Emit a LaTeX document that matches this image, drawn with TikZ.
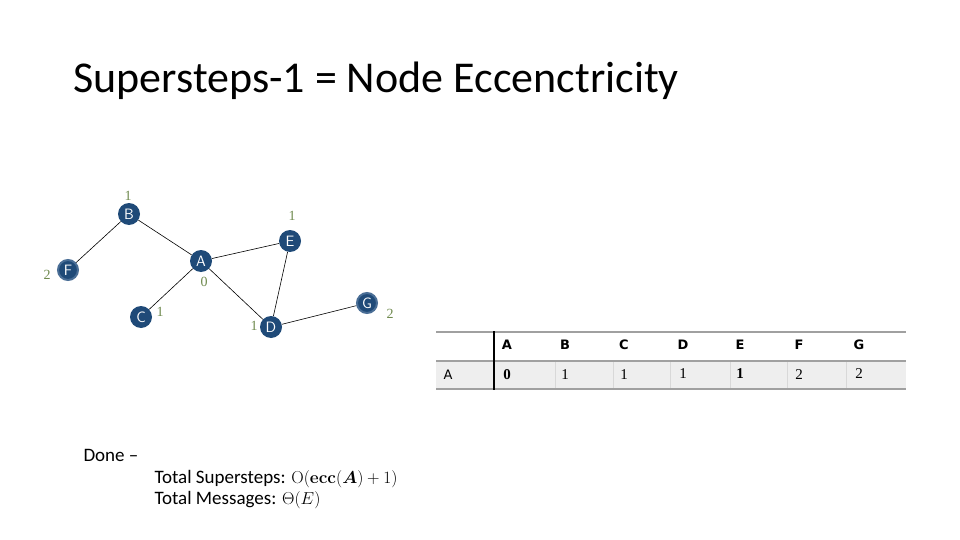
\documentclass[tikz,border=0pt]{standalone}
\usepackage{amsmath,bm}
\usepackage[no-math]{fontspec}
\setmainfont{Carlito}
\newfontfamily\tabsans{DejaVu Sans}
\newfontfamily\numserif{Liberation Serif}
\definecolor{nodeblue}{HTML}{1F4A78}
\definecolor{ringblue}{HTML}{4A6E96}
\definecolor{lblgreen}{HTML}{6F8A4E}
\definecolor{rowgray}{HTML}{EEEEEE}
\definecolor{rulegray}{HTML}{A0A0A0}
\definecolor{sepgray}{HTML}{D8D8D8}
\begin{document}
\begin{tikzpicture}[x=1pt,y=-1pt,
  vtx/.style={circle,fill=nodeblue,text=white,minimum size=22pt,inner sep=0pt,font=\fontsize{15}{15}\selectfont\sffamily},
  ringvtx/.style={vtx,draw=ringblue,line width=2pt,minimum size=20pt},
  lbl/.style={text=lblgreen,font=\fontsize{14}{14}\selectfont\numserif},
  edge/.style={draw=black,line width=0.6pt},
  hdr/.style={font=\fontsize{13}{13}\selectfont\tabsans\bfseries},
  cellnum/.style={font=\fontsize{15}{15}\selectfont\numserif},
]
\useasboundingbox (0,0) rectangle (960,540);
\fill[white] (0,0) rectangle (960,540);
% title
\node[anchor=west,font=\fontsize{44}{44}\selectfont] (title) at (70,81) {Supersteps-1 = Node Eccenctricity};
% graph
\node[vtx] (B) at (129,214) {B};
\node[vtx] (E) at (290,241) {E};
\node[vtx] (A) at (201,261) {A};
\node[ringvtx] (F) at (68,270) {F};
\node[vtx] (C) at (141,317) {C};
\node[vtx] (D) at (271,327) {D};
\node[ringvtx] (G) at (367,303) {G};
\draw[edge] (B) -- (F);
\draw[edge] (B) -- (A);
\draw[edge] (A) -- (E);
\draw[edge] (A) -- (C);
\draw[edge] (A) -- (D);
\draw[edge] (E) -- (D);
\draw[edge] (D) -- (G);
\node[lbl] (lB) at (128,196) {1};
\node[lbl] (lE) at (292,216) {1};
\node[lbl] (lA) at (204,282) {0};
\node[lbl] (lF) at (47,275) {2};
\node[lbl] (lC) at (160,312) {1};
\node[lbl] (lD) at (254,326) {1};
\node[lbl] (lG) at (390,314) {2};
% table
\fill[rowgray] (436,361) rectangle (906,389);
\foreach \x in {555,613,670,730,787,846} \draw[sepgray,line width=0.6pt] (\x,361) -- (\x,389);
\draw[rulegray,line width=2pt] (436,332) -- (906,332);
\draw[rulegray,line width=2pt] (436,361) -- (906,361);
\draw[rulegray,line width=2pt] (436,389) -- (906,389);
\draw[black,line width=2pt] (494,331) -- (494,390);
\node[hdr] (hA) at (507,345) {A};
\node[hdr] (hB) at (565,345) {B};
\node[hdr] (hC) at (624,345) {C};
\node[hdr] (hD) at (683,345) {D};
\node[hdr] (hE) at (740,345) {E};
\node[hdr] (hF) at (799,345) {F};
\node[hdr] (hG) at (859,345) {G};
\node[font=\fontsize{13}{13}\selectfont\tabsans] (rA) at (448,375) {A};
\node[cellnum,font=\fontsize{15}{15}\selectfont\numserif\bfseries] (c1) at (507,375) {0};
\node[cellnum] (c2) at (565,375) {1};
\node[cellnum] (c3) at (624,375) {1};
\node[cellnum] (c4) at (683,374) {1};
\node[cellnum,font=\fontsize{15}{15}\selectfont\numserif\bfseries] (c5) at (740,374) {1};
\node[cellnum] (c6) at (799,375) {2};
\node[cellnum] (c7) at (859,374) {2};
% bottom text
\node[anchor=base west,font=\fontsize{19}{19}\selectfont] (done) at (80,461) {Done --};
\node[anchor=base west,font=\fontsize{19}{19}\selectfont] (ts) at (151,483) {Total Supersteps: $\mathrm{O}(\mathbf{ecc}(\bm{A})+1)$};
\node[anchor=base west,font=\fontsize{19}{19}\selectfont] (tm) at (151,504) {Total Messages: $\Theta(E)$};
\end{tikzpicture}
\end{document}
